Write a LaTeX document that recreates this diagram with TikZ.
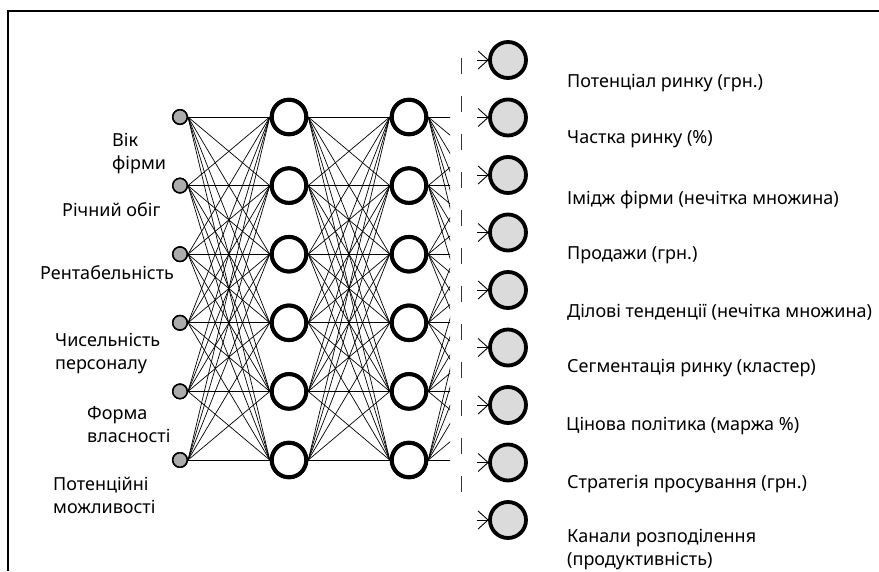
\documentclass[tikz,border=0pt]{standalone}
\usepackage{fontspec}
\setmainfont{Noto Sans}
\begin{document}
\begin{tikzpicture}[x=1pt,y=-1pt,
  inp/.style={circle,draw=black,line width=1.5pt,fill=gray!65,minimum size=14.5pt,inner sep=0pt},
  hid/.style={circle,draw=black,line width=4pt,fill=white,minimum size=34.5pt,inner sep=0pt},
  outn/.style={circle,draw=black,line width=3.8pt,fill=gray!28,minimum size=36pt,inner sep=0pt},
  conn/.style={line width=0.7pt},
  frame/.style={line width=1.6pt},
  lbl/.style={font=\fontsize{18}{23}\selectfont,align=left,inner sep=0pt,anchor=west}]
\useasboundingbox (0,0) rectangle (879,571);
% frame
\coordinate (fb) at (8,571);
\coordinate (fc) at (8,11);
\coordinate (fr) at (879,11);
\draw[frame] (fb) -- (fc) -- (fr);
% layers
\foreach \i in {1,...,6} {
  \pgfmathsetmacro{\yy}{117+68.6*(\i-1)}
  \node[inp] (in\i) at (180,\yy) {};
  \node[hid] (ha\i) at (289,\yy) {};
  \node[hid] (hb\i) at (409,\yy) {};
  \coordinate (v\i) at (510.5,\yy);
}
\foreach \j in {1,...,9} {
  \pgfmathsetmacro{\yy}{60+57.5*(\j-1)}
  \node[outn] (o\j) at (508,\yy) {};
}
% connections
\foreach \i in {1,...,6} {
  \foreach \k in {1,...,6} {
    \draw[conn] (in\i.east) -- (ha\k.west);
    \draw[conn] (ha\i.east) -- (hb\k.west);
  }
}
\begin{scope}
\clip (420,0) rectangle (450,571);
\foreach \i in {1,...,6} {
  \foreach \k in {1,...,6} {
    \draw[conn] (hb\i.east) -- (v\k);
  }
}
\end{scope}
% redraw nodes on top
\foreach \i in {1,...,6} {
  \node[inp] at (in\i) {};
  \node[hid] at (ha\i) {};
  \node[hid] at (hb\i) {};
}
% dashed separator
\coordinate (d1) at (461,58);
\coordinate (d2) at (461,502);
\draw[line width=1pt,black!80,dash pattern=on 16pt off 22pt] (d1) -- (d2);
% output input marks
\foreach \j in {1,...,9} {
  \draw[conn,line width=0.9pt] (o\j.west) -- ++(-10,-9);
  \draw[conn,line width=0.9pt] (o\j.west) -- ++(-11,0);
  \draw[conn,line width=0.9pt] (o\j.west) -- ++(-10,9);
}
% left labels
\node[lbl] (l1) at (112,153.5) {Вік\\фірми};
\node[lbl] (l2) at (62,210) {Річний обіг};
\node[lbl] (l3) at (40,273) {Рентабельність};
\node[lbl] (l4) at (55,353.5) {Чисельність\\персоналу};
\node[lbl] (l5) at (87,425) {Форма\\власності};
\node[lbl] (l6) at (53,495) {Потенційні\\можливості};
% right labels
\node[lbl] (r1) at (567,83) {Потенціал ринку (грн.)};
\node[lbl] (r2) at (567,139) {Частка ринку (\%)};
\node[lbl] (r3) at (567,200) {Імідж фірми (нечітка множина)};
\node[lbl] (r4) at (567,255) {Продажи (грн.)};
\node[lbl] (r5) at (567,312) {Ділові тенденції (нечітка множина)};
\node[lbl] (r6) at (567,368) {Сегментація ринку (кластер)};
\node[lbl] (r7) at (566,426) {Цінова політика (маржа \%)};
\node[lbl] (r8) at (567,484) {Стратегія просування (грн.)};
\node[lbl] (r9) at (567,550) {Канали розподілення\\(продуктивність)};
\end{tikzpicture}
\end{document}
